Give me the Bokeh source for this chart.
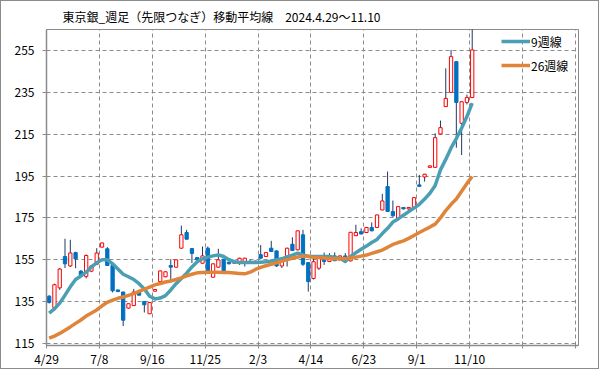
from bokeh.plotting import figure
from bokeh.models import FixedTicker, Range1d, ColumnDataSource, Legend, LegendItem
from bokeh.embed import file_html
from bokeh.resources import INLINE

# ---- data ----
opens = [137.5, 132.0, 141.5, 156.5, 152.0, 158.4, 149.5, 147.0, 149.5, 152.8,
         161.0, 160.2, 152.2, 140.5, 139.5, 131.8, 133.0, 139.3, 135.0, 129.1,
         139.9, 144.5, 146.8, 152.2, 151.4, 160.5, 168.0, 160.3, 156.0, 153.3,
         160.5, 146.6, 151.4, 155.2, 153.8, 153.3, 153.8, 153.8, 154.2, 153.3,
         157.4, 156.5, 160.5, 159.2, 152.0, 156.0, 162.4, 159.7, 166.9, 153.6,
         146.0, 150.9, 155.7, 154.1, 156.8, 154.9, 156.8, 154.4, 166.5, 168.4,
         168.0, 170.4, 170.4, 178.8, 190.0, 178.0, 174.8, 180.0, 179.3, 180.1,
         190.8, 194.6, 199.2, 199.2, 215.2, 228.3, 235.1, 249.8, 220.3, 230.3,
         232.6]
closes = [134.5, 143.0, 150.5, 153.0, 158.2, 155.4, 147.4, 157.0, 152.0, 158.2,
          163.0, 152.2, 140.1, 139.7, 126.0, 133.9, 139.5, 138.0, 133.4, 134.5,
          140.7, 149.6, 149.2, 151.4, 154.9, 166.9, 164.8, 158.0, 154.9, 156.8,
          149.6, 153.0, 154.9, 149.6, 153.0, 154.3, 155.7, 155.7, 153.5, 154.3,
          155.7, 158.4, 158.9, 152.0, 154.6, 160.5, 159.4, 168.8, 152.8, 144.5,
          154.0, 156.8, 154.1, 155.7, 154.5, 156.8, 156.0, 168.1, 168.0, 167.3,
          170.4, 168.8, 176.4, 183.1, 178.1, 176.0, 180.4, 179.3, 180.0, 184.7,
          190.1, 195.9, 199.9, 213.4, 218.2, 232.2, 252.2, 230.3, 230.6, 232.6,
          255.4]
highs = [138.0, 143.5, 151.0, 165.0, 164.5, 158.8, 150.0, 157.5, 152.5, 160.5,
         163.2, 161.0, 152.5, 140.7, 139.7, 134.0, 141.0, 139.5, 135.2, 134.7,
         140.8, 149.8, 149.4, 155.2, 155.1, 171.3, 169.3, 160.5, 156.2, 161.3,
         161.3, 153.2, 160.2, 155.4, 154.0, 154.5, 155.9, 155.9, 155.0, 154.5,
         162.0, 158.6, 164.0, 159.4, 154.8, 160.7, 165.7, 169.0, 169.3, 153.8,
         156.5, 157.0, 158.4, 158.1, 158.5, 157.0, 158.1, 168.3, 171.7, 170.0,
         170.6, 172.8, 176.6, 186.5, 197.2, 183.3, 180.6, 180.2, 180.2, 184.9,
         195.6, 196.1, 200.1, 215.5, 221.6, 246.6, 255.4, 250.0, 230.8, 234.0,
         268.0]
lows = [134.0, 131.5, 140.5, 151.0, 151.5, 150.9, 146.5, 146.0, 149.0, 152.5,
        160.8, 152.0, 139.3, 139.5, 123.2, 131.6, 132.8, 137.8, 129.7, 129.0,
        139.8, 144.3, 146.6, 145.3, 151.2, 160.3, 164.6, 153.4, 154.7, 153.1,
        149.4, 146.4, 151.2, 149.4, 152.8, 153.1, 152.5, 151.7, 153.0, 153.1,
        155.5, 156.3, 158.7, 151.5, 151.0, 151.7, 159.2, 159.5, 152.0, 139.7,
        145.5, 150.1, 152.5, 153.9, 154.3, 154.7, 155.8, 154.2, 166.3, 167.1,
        167.8, 168.6, 170.2, 178.6, 177.9, 175.5, 174.6, 179.1, 177.7, 179.9,
        189.9, 192.4, 199.0, 199.0, 215.0, 228.1, 234.9, 208.6, 205.1, 229.3,
        232.4]
ma9 = [129.4, 131.4, 134.2, 138.0, 142.0, 145.5, 147.2, 149.0, 151.5, 153.5,
       155.0, 155.0, 153.0, 150.5, 148.0, 146.8, 145.5, 143.5, 141.0, 137.5,
       136.2, 136.6, 137.8, 140.5, 143.5, 146.0, 148.5, 151.5, 154.0, 155.4,
       156.2, 156.8, 157.3, 156.5, 155.0, 154.0, 153.6, 153.6, 153.6, 153.6,
       153.8, 154.0, 154.3, 155.0, 155.4, 156.3, 157.2, 158.1, 157.3, 156.6,
       156.5, 156.5, 156.5, 156.5, 156.0, 155.7, 154.1, 156.5, 158.3, 160.0,
       161.5, 163.2, 164.7, 167.5, 170.0, 173.0, 174.5, 176.3, 178.0, 179.7,
       181.5, 184.0, 186.8, 190.5, 198.0, 203.0, 208.5, 213.0, 218.0, 223.5,
       230.0]
ma26 = [117.4, 118.4, 119.7, 121.2, 122.8, 124.5, 126.1, 128.0, 129.5, 130.9,
        132.9, 134.6, 135.6, 136.5, 137.1, 137.9, 138.7, 139.8, 140.9, 141.9,
        142.9, 143.6, 144.3, 144.8, 145.5, 146.3, 147.2, 148.0, 148.7, 148.9,
        149.0, 149.0, 149.0, 148.9, 148.8, 148.6, 148.4, 148.2, 149.0, 150.3,
        151.3, 152.1, 152.8, 153.5, 154.3, 155.0, 155.7, 156.3, 156.7, 156.5,
        156.2, 156.0, 155.8, 155.6, 155.4, 155.4, 155.5, 155.8, 156.2, 156.7,
        157.2, 158.0, 158.8, 159.6, 160.9, 162.3, 163.2, 164.0, 165.2, 166.6,
        168.0, 169.3, 170.6, 172.0, 175.0, 178.5, 181.5, 184.0, 187.8, 191.5,
        194.8]
tick_labels = ["4/29", "7/8", "9/16", "11/25", "2/3", "4/14", "6/23", "9/1", "11/10", "", ""]
y_ticks = [115, 135, 155, 175, 195, 215, 235, 255]
title_text = "東京銀_週足（先限つなぎ）移動平均線　2024.4.29～11.10"

# ---- derived ----
weeks = list(range(len(opens)))
tops = [max(o, c) for o, c in zip(opens, closes)]
bots = [min(o, c) for o, c in zip(opens, closes)]
is_up = [c >= o for o, c in zip(opens, closes)]

RED = "#FF0000"
BLUE = "#0070C0"
WICK = "#1F3864"
TEAL = "#4A9FB5"
ORANGE = "#E0843A"
GRID = "#8C8C8C"
FRAME = "#8C8C8C"
FONT = "Noto Sans CJK JP"

src = ColumnDataSource(dict(
    x=weeks, top=tops, bottom=bots, low=lows, high=highs,
    fill=["#FFFFFF" if u else BLUE for u in is_up],
    line=[RED if u else BLUE for u in is_up],
))

p = figure(width=599, height=369, output_backend="svg", toolbar_location=None,
           x_range=Range1d(-0.5, 100.1), y_range=Range1d(113.9, 265.2),
           min_border_left=45, min_border_right=22, min_border_top=28,
           min_border_bottom=25, background_fill_color="white",
           border_fill_color="white")
p.styles = {"border": "1px solid #8C8C8C", "box-sizing": "border-box"}

p.title.text = title_text
p.title.align = "left"
p.title.offset = 16
p.title.standoff = 9
p.title.text_font = FONT
p.title.text_font_size = "12px"
p.title.text_font_style = "normal"
p.title.text_color = "#000000"

p.outline_line_color = FRAME
p.outline_line_width = 1

# x axis: ticks at 10-week boundaries
x_ticks = [k * 10 - 0.5 for k in range(len(tick_labels))]
p.xaxis.ticker = FixedTicker(ticks=x_ticks)
p.xaxis.major_label_overrides = {t: lab for t, lab in zip(x_ticks, tick_labels)}
p.xaxis.minor_tick_line_color = None
p.xaxis.major_tick_in = 0
p.xaxis.major_tick_out = 3
p.xaxis.major_label_standoff = 1
p.xaxis.axis_line_color = FRAME
p.xaxis.axis_line_width = 1.5
p.xaxis.major_tick_line_color = FRAME
p.xaxis.major_label_text_font = FONT
p.xaxis.major_label_text_font_size = "12px"
p.xaxis.major_label_text_color = "#000000"

p.yaxis.ticker = FixedTicker(ticks=y_ticks)
p.yaxis.minor_tick_line_color = None
p.yaxis.major_tick_in = 0
p.yaxis.major_tick_out = 4
p.yaxis.major_label_standoff = 8
p.yaxis.axis_line_color = FRAME
p.yaxis.axis_line_width = 1.5
p.yaxis.major_tick_line_color = FRAME
p.yaxis.major_label_text_font = FONT
p.yaxis.major_label_text_font_size = "12px"
p.yaxis.major_label_text_color = "#000000"

p.xgrid.ticker = FixedTicker(ticks=x_ticks)
p.xgrid.grid_line_color = GRID
p.xgrid.grid_line_dash = "4 3"
p.ygrid.ticker = FixedTicker(ticks=y_ticks)
p.ygrid.grid_line_color = GRID
p.ygrid.grid_line_dash = "4 3"

# candles
p.segment(x0="x", y0="low", x1="x", y1="high", source=src, line_color=WICK, line_width=1)
p.vbar(x="x", width=0.62, top="top", bottom="bottom", source=src,
       fill_color="fill", line_color="line", line_width=1)

# moving averages
r9 = p.line(weeks, ma9, line_color=TEAL, line_width=3.5, line_join="round")
r26 = p.line(weeks, ma26, line_color=ORANGE, line_width=3.5, line_join="round")

legend = Legend(items=[LegendItem(label="9週線", renderers=[r9]),
                       LegendItem(label="26週線", renderers=[r26])],
                location=(455, 270), glyph_width=29, glyph_height=20,
                label_standoff=1, spacing=4, padding=0, margin=0,
                background_fill_alpha=0, border_line_color=None,
                label_text_font=FONT, label_text_font_size="12px",
                label_text_color="#000000")
p.add_layout(legend)

open("out.html", "w").write(file_html(p, INLINE))
